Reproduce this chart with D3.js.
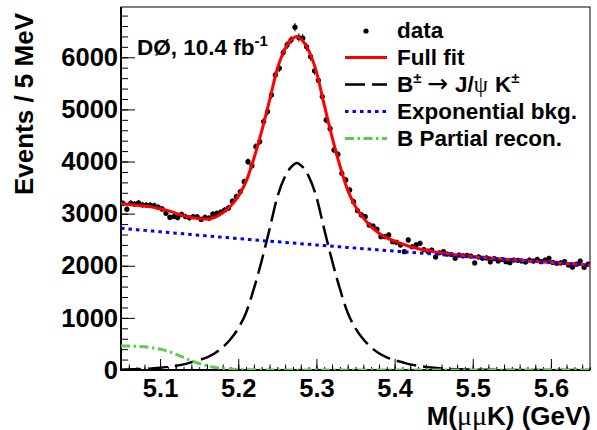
<!DOCTYPE html>
<html><head><meta charset="utf-8">
<script src="https://cdn.jsdelivr.net/npm/d3@7"></script>
<style>
body{margin:0;background:#fff}
svg{display:block}
text{font-family:"Liberation Sans",Arial,Helvetica,sans-serif;font-weight:bold;fill:#000}
</style>
</head><body>
<svg id="c" width="597" height="430"></svg>
<script>
// ---- data ----
const binLow = 5.05, binWidth = 0.005;
const dataCounts = [
 3199,3085,3200,3185,3205,3170,3165,3165,3155,3125,
 3090,3010,2930,2945,2925,2985,2945,2920,2945,2940,
 2890,2930,2915,2990,3005,3030,3070,3110,3240,3326,
 3420,3614,3998,3921,4286,4382,4766,4958,5278,5662,
 5791,6090,6238,6330,6578,6380,6366,6200,6014,5740,
 5560,5246,4798,4630,4223,4140,3775,3647,3455,3230,
 3060,2975,2942,2783,2760,2700,2559,2560,2591,2463,
 2450,2399,2271,2495,2365,2399,2431,2310,2280,2300,
 2170,2250,2271,2225,2215,2144,2207,2190,2200,2185,
 2055,2170,2144,2150,2075,2137,2092,2120,2079,2060,
 2111,2105,2092,2072,2111,2090,2125,2079,2111,2144,
 2065,2048,2055,2079,2015,1975,2030,2090,1970,2030
];
const curveMass = [5.05,5.06,5.07,5.08,5.09,5.10,5.11,5.12,5.13,5.14,5.15,5.16,5.17,5.18,5.19,5.20,
 5.21,5.22,5.23,5.24,5.25,5.26,5.27,5.275,5.28,5.29,5.30,5.31,5.32,5.33,5.34,5.35,5.36,5.37,5.38,5.39,5.40,
 5.41,5.42,5.43,5.44,5.45,5.46,5.47,5.48,5.49,5.50,5.51,5.52,5.53,5.54,5.55,5.56,5.57,5.58,5.59,5.60,
 5.61,5.62,5.63,5.64,5.65];
const bkgVals = [2720,2706,2693,2679,2666,2652,2639,2626,2613,2599,2586,2573,2560,2548,2535,2522,
 2509,2497,2484,2472,2460,2447,2435,2429,2423,2411,2399,2387,2375,2363,2351,2339,2328,2316,2304,2293,2281,
 2270,2258,2247,2236,2225,2214,2202,2191,2180,2169,2159,2148,2137,2126,2116,2105,2095,2084,2074,2063,
 2053,2043,2032,2022,2012];
const sigVals = [7,11,15,22,31,43,60,80,108,148,190,242,320,435,590,800,
 1100,1560,2100,2700,3320,3720,3930,3970,3930,3720,3320,2700,2100,1560,1100,800,590,435,320,242,190,
 148,108,80,60,43,31,22,15,11,7,5,3,2,1,1,0,0,0,0,0,
 0,0,0,0,0];
const partVals = [462,460,455,445,428,400,360,305,240,178,125,80,50,30,18,10,
 5,3,1,0,0,0,0,0,0,0,0,0,0,0,0,0,0,0,0,0,0,
 0,0,0,0,0,0,0,0,0,0,0,0,0,0,0,0,0,0,0,0,
 0,0,0,0,0];
const xTickLabels = [5.1,5.2,5.3,5.4,5.5,5.6];
const yTickLabels = [0,1000,2000,3000,4000,5000,6000];
const legendLabels = ["data","Full fit","B\u00b1 \u2192 J/\u03c8 K\u00b1","Exponential bkg.","B Partial recon."];

// ---- layout ----
const L=121, R=590, T=7, B=370;
const svg = d3.select("#c");
const x = d3.scaleLinear().domain([5.05,5.65]).range([L,R]);
const y = d3.scaleLinear().domain([0,6965]).range([B,T]);

svg.append("defs").append("clipPath").attr("id","clip")
  .append("rect").attr("x",L).attr("y",T).attr("width",R-L).attr("height",B-T);

// frame
svg.append("rect").attr("x",L).attr("y",T).attr("width",R-L).attr("height",B-T)
  .attr("fill","none").attr("stroke","#000").attr("stroke-width",1);

// y axis
const yMinor = d3.range(0,6901,200);
const gyMin = svg.append("g").attr("transform",`translate(${L},0)`)
  .call(d3.axisLeft(y).tickValues(yMinor).tickSize(-7).tickFormat(""));
const gy = svg.append("g").attr("transform",`translate(${L},0)`)
  .call(d3.axisLeft(y).tickValues(yTickLabels).tickSize(-14).tickPadding(3).tickFormat(d3.format("d")));
[gyMin,gy].forEach(g=>{g.select(".domain").remove(); g.selectAll("line").attr("stroke","#000").attr("stroke-width",1);});
gy.selectAll("text").attr("font-size",25.5).style("font-family",'"Liberation Sans",Arial,sans-serif').style("font-weight","bold");

// x axis
const xTert = d3.range(5.05,5.6501,0.01);
const xMinor = d3.range(5.06,5.6501,0.02);
const gxT = svg.append("g").attr("transform",`translate(0,${B})`)
  .call(d3.axisBottom(x).tickValues(xTert).tickSize(-3).tickFormat(""));
const gxM = svg.append("g").attr("transform",`translate(0,${B})`)
  .call(d3.axisBottom(x).tickValues(xMinor).tickSize(-5.5).tickFormat(""));
const gx = svg.append("g").attr("transform",`translate(0,${B})`)
  .call(d3.axisBottom(x).tickValues(xTickLabels).tickSize(-11).tickPadding(9).tickFormat(d3.format(".1f")));
[gxT,gxM,gx].forEach(g=>{g.select(".domain").remove(); g.selectAll("line").attr("stroke","#000").attr("stroke-width",1);});
gx.selectAll("text").attr("font-size",25.5).style("font-family",'"Liberation Sans",Arial,sans-serif').style("font-weight","bold");

// thick axis lines
svg.append("line").attr("x1",L).attr("x2",L).attr("y1",T).attr("y2",B+1).attr("stroke","#000").attr("stroke-width",2);
svg.append("line").attr("x1",L-1).attr("x2",R).attr("y1",B).attr("y2",B).attr("stroke","#000").attr("stroke-width",2);

// axis titles
svg.append("text").attr("transform","translate(33,13) rotate(-90)").attr("text-anchor","end")
  .attr("font-size",26).text("Events / 5 MeV");
const xt = svg.append("text").attr("x",591).attr("y",425).attr("text-anchor","end").attr("font-size",26);
xt.append("tspan").text("M(");
xt.append("tspan").attr("font-size",28).style("font-family",'"Liberation Serif",serif').style("font-weight","normal").text("\u03bc\u03bc");
xt.append("tspan").text("K) (GeV)");

// experiment label
const dl = svg.append("text").attr("x",137).attr("y",55).attr("font-size",22.5);
dl.append("tspan").text("D\u00d8, 10.4 fb");
dl.append("tspan").attr("font-size",15).attr("dy",-9).text("-1");

// ---- plot area ----
const plot = svg.append("g").attr("clip-path","url(#clip)");
const data = dataCounts.map((v,i)=>({m: binLow + binWidth*(i+0.5), v}));
plot.append("g").selectAll("line").data(data).join("line")
  .attr("x1",d=>x(d.m)).attr("x2",d=>x(d.m))
  .attr("y1",d=>y(d.v+Math.sqrt(d.v))).attr("y2",d=>y(d.v-Math.sqrt(d.v)))
  .attr("stroke","#000").attr("stroke-width",1);
plot.append("g").selectAll("circle").data(data).join("circle")
  .attr("cx",d=>x(d.m)).attr("cy",d=>y(d.v)).attr("r",2.6).attr("fill","#000");

const fullVals = curveMass.map((m,i)=>bkgVals[i]+sigVals[i]+partVals[i]);
const line = vals => d3.line().curve(d3.curveMonotoneX)
  .x((d,i)=>x(curveMass[i])).y(d=>y(d))(vals);

const styles = {
  full: {c:"#ff0000", w:3, dash:null},
  sig:  {c:"#000000", w:2.5, dash:"20 7"},
  bkg:  {c:"#0000ff", w:3, dash:"3.5 4"},
  part: {c:"#5ccb4c", w:3, dash:"9 3.5 2.5 3.5"}
};
function drawCurve(vals, s){
  const p = plot.append("path").attr("d",line(vals)).attr("fill","none")
    .attr("stroke",s.c).attr("stroke-width",s.w);
  if(s.dash) p.attr("stroke-dasharray",s.dash);
}
drawCurve(fullVals, styles.full);
drawCurve(sigVals, styles.sig);
drawCurve(bkgVals, styles.bkg);
drawCurve(partVals, styles.part);

// ---- legend ----
const lx0 = 345, lx1 = 387, tx = 397;
const rowBase = [38,65,92,119,146];
const leg = svg.append("g");
leg.append("circle").attr("cx",366).attr("cy",rowBase[0]-7).attr("r",2.6).attr("fill","#000");
[["full",1],["sig",2],["bkg",3],["part",4]].forEach(([k,r])=>{
  const s = styles[k];
  const l = leg.append("line").attr("x1",lx0).attr("x2",lx1).attr("y1",rowBase[r]-7.5).attr("y2",rowBase[r]-7.5)
    .attr("stroke",s.c).attr("stroke-width",s.w);
  if(s.dash) l.attr("stroke-dasharray",s.dash);
});
legendLabels.forEach((t,r)=>{
  const te = leg.append("text").attr("x",tx).attr("y",rowBase[r]).attr("font-size",22.5);
  if(r===2){
    te.append("tspan").text("B");
    te.append("tspan").attr("font-size",15).attr("dy",-9).text("\u00b1");
    te.append("tspan").attr("x",427).attr("dy",9).attr("font-size",25).style("font-weight","normal").style("font-family",'"DejaVu Sans",sans-serif').text("\u2192");
    te.append("tspan").attr("x",455).text("J/");
    te.append("tspan").style("font-weight","normal").style("font-family",'"Liberation Serif",serif').text("\u03c8");
    te.append("tspan").attr("x",495).text("K");
    te.append("tspan").attr("font-size",15).attr("dy",-9).text("\u00b1");
  } else {
    te.text(t);
  }
});
</script>
</body></html>
